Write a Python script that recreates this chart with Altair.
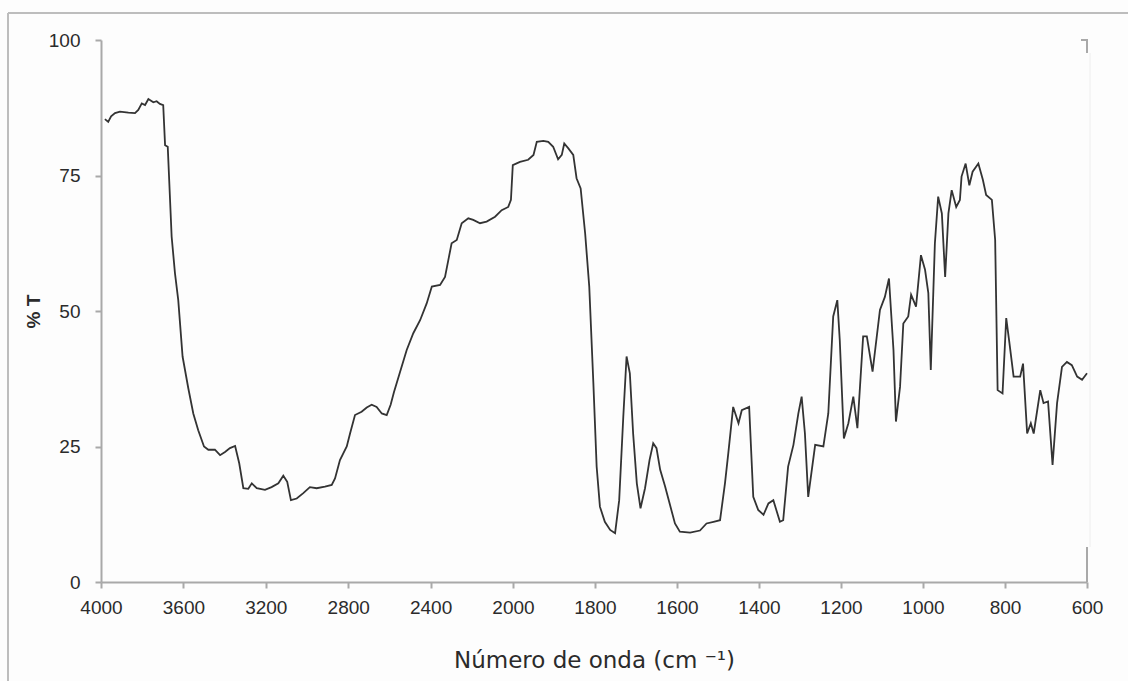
import altair as alt
import pandas as pd

# IR transmittance spectrum, wavenumber (cm-1) vs %T
wavenumber = [
    3981, 3965, 3951, 3932, 3908, 3867, 3835, 3819, 3802, 3786, 3770, 3746, 3730, 3714,
    3698, 3689, 3676, 3657, 3641, 3625, 3604, 3576, 3552, 3528, 3500, 3479, 3447, 3422,
    3398, 3374, 3349, 3329, 3309, 3285, 3268, 3244, 3204, 3172, 3139, 3115, 3096, 3078,
    3050, 3018, 2986, 2953, 2913, 2880, 2864, 2840, 2807, 2791, 2767, 2735, 2710, 2686,
    2662, 2637, 2613, 2594, 2578, 2552, 2516, 2484, 2451, 2419, 2394, 2354, 2330, 2314,
    2298, 2273, 2249, 2217, 2193, 2160, 2128, 2087, 2055, 2023, 2010, 2001, 1983, 1963,
    1950, 1942, 1926, 1914, 1902, 1890, 1881, 1875, 1865, 1853, 1845, 1835, 1824, 1814,
    1804, 1796, 1788, 1776, 1763, 1751, 1741, 1731, 1723, 1715, 1707, 1698, 1689, 1678,
    1667, 1658, 1650, 1641, 1629, 1617, 1605, 1593, 1568, 1544, 1528, 1511, 1495, 1483,
    1475, 1463, 1450, 1442, 1424, 1414, 1402, 1389, 1377, 1365, 1349, 1341, 1329, 1316,
    1304, 1296, 1288, 1280, 1263, 1243, 1231, 1219, 1209, 1203, 1193, 1182, 1170, 1160,
    1146, 1137, 1123, 1105, 1093, 1083, 1072, 1066, 1056, 1048, 1036, 1029, 1017, 1005,
    995, 987, 981, 971, 963, 954, 946, 938, 930, 919, 910, 906, 896, 887,
    879, 865, 854, 846, 832, 824, 818, 806, 797, 789, 779, 763, 756, 746,
    737, 730, 714, 706, 695, 684, 673, 661, 649, 637, 624, 612, 600,
]
transmittance = [
    85.4, 84.9, 85.9, 86.5, 86.8, 86.6, 86.5, 87.1, 88.3, 88.0, 89.1, 88.5, 88.7, 88.2,
    88.0, 80.6, 80.3, 63.7, 57.0, 52.0, 41.6, 35.7, 31.1, 28.0, 25.0, 24.4, 24.4, 23.4,
    24.0, 24.7, 25.1, 21.9, 17.3, 17.2, 18.2, 17.3, 17.0, 17.5, 18.2, 19.6, 18.5, 15.1,
    15.4, 16.4, 17.5, 17.3, 17.6, 17.9, 19.1, 22.5, 25.0, 27.4, 30.8, 31.4, 32.2, 32.7,
    32.3, 31.1, 30.8, 32.7, 35.0, 38.3, 42.8, 45.9, 48.3, 51.4, 54.5, 54.8, 56.3, 59.4,
    62.5, 63.1, 66.2, 67.1, 66.8, 66.2, 66.5, 67.4, 68.6, 69.2, 70.5, 76.9, 77.5, 77.9,
    78.8, 81.2, 81.4, 81.2, 80.3, 78.0, 78.8, 80.9, 80.0, 78.8, 74.5, 72.6, 64.3, 54.5,
    36.7, 21.3, 13.9, 11.1, 9.6, 9.0, 15.1, 30.5, 41.6, 38.5, 27.4, 18.2, 13.6, 17.3,
    22.5, 25.6, 24.7, 20.7, 17.6, 14.2, 10.8, 9.3, 9.1, 9.5, 10.8, 11.1, 11.4, 18.2,
    23.7, 32.3, 29.3, 31.7, 32.3, 15.7, 13.3, 12.4, 14.5, 15.1, 11.1, 11.4, 21.3, 25.3,
    31.1, 34.2, 27.4, 15.7, 25.3, 25.0, 31.1, 49.0, 52.0, 44.6, 26.5, 29.3, 34.2, 28.4,
    45.3, 45.3, 38.8, 50.2, 52.6, 56.0, 42.8, 29.6, 36.0, 47.7, 49.0, 53.0, 50.8, 60.3,
    57.6, 53.3, 39.1, 62.5, 71.1, 68.0, 56.3, 68.0, 72.3, 69.2, 70.5, 74.8, 77.2, 73.2,
    75.7, 77.2, 74.2, 71.4, 70.5, 63.1, 35.4, 34.8, 48.7, 44.0, 37.9, 37.9, 40.3, 27.4,
    29.3, 27.4, 35.4, 33.0, 33.3, 21.6, 33.0, 39.7, 40.6, 40.0, 37.9, 37.3, 38.5,
]

x_ticks = [4000, 3600, 3200, 2800, 2400, 2000, 1800, 1600, 1400, 1200, 1000, 800, 600]
y_ticks = [0, 25, 50, 75, 100]

spectrum = pd.DataFrame({"wn": wavenumber, "T": transmittance})
one_row = pd.DataFrame({"k": [0]})

W, H = 986, 542
AXIS_GRAY = "#a9a9a9"
FRAME_GRAY = "#bdbdbd"
TEXT = "#2b2b2b"

# the wavenumber axis changes scale at 2000 cm-1 (piecewise linear)
x_scale = alt.Scale(domain=[4000, 2000, 600], range=[0, 412, W])
y_scale = alt.Scale(domain=[0, 100])

common_axis = dict(
    domainColor=AXIS_GRAY, domainWidth=2,
    tickColor=AXIS_GRAY, tickWidth=2, tickSize=6,
    labelFont="Liberation Sans", labelFontSize=19, labelColor=TEXT,
    labelOverlap=False, labelFlush=False, grid=False, format="d",
)

line = alt.Chart(spectrum).mark_line(color="#333333", strokeWidth=1.8).encode(
    x=alt.X(
        "wn:Q", scale=x_scale,
        axis=alt.Axis(
            values=x_ticks, labelPadding=10,
            title="Número de onda (cm ⁻¹)",
            titleFont="DejaVu Sans", titleFontSize=23, titleFontWeight="normal",
            titleColor=TEXT, titleBaseline="alphabetic", titleY=85,
            **common_axis,
        ),
    ),
    y=alt.Y(
        "T:Q", scale=y_scale,
        axis=alt.Axis(
            values=y_ticks, labelPadding=15,
            title="% T",
            titleFont="Liberation Sans", titleFontSize=19, titleFontWeight="bold",
            titleColor=TEXT, titleAngle=270, titleAlign="center",
            titleBaseline="middle", titleX=-68, titleY=H / 2,
            **common_axis,
        ),
    ),
)

# outer frame (top and left edges)
frame_top = alt.Chart(one_row).mark_rule(color=FRAME_GRAY, strokeWidth=2).encode(
    x=alt.value(-93), x2=alt.value(W + 41), y=alt.value(-27)
)
frame_left = alt.Chart(one_row).mark_rule(color=FRAME_GRAY, strokeWidth=2).encode(
    x=alt.value(-93), y=alt.value(-27), y2=alt.value(H + 99)
)

# short right-hand axis pieces
right_top = alt.Chart(one_row).mark_rule(color=AXIS_GRAY, strokeWidth=2).encode(
    x=alt.value(W), y=alt.value(0), y2=alt.value(13)
)
right_top_tick = alt.Chart(one_row).mark_rule(color=AXIS_GRAY, strokeWidth=2).encode(
    x=alt.value(W - 6), x2=alt.value(W + 1), y=alt.value(0)
)
right_bottom = alt.Chart(one_row).mark_rule(color=AXIS_GRAY, strokeWidth=2).encode(
    x=alt.value(W), y=alt.value(H - 35), y2=alt.value(H)
)
right_faint = alt.Chart(one_row).mark_rule(color="#eeeeee", strokeWidth=1).encode(
    x=alt.value(W + 3), y=alt.value(13), y2=alt.value(H - 35)
)

chart = alt.layer(
    frame_top, frame_left, right_faint, line, right_top, right_top_tick, right_bottom
).properties(
    width=W, height=H,
    autosize=alt.AutoSizeParams(type="none"),
    padding={"left": 101, "top": 40, "right": 41, "bottom": 99},
    background="#fdfdfd",
).configure_view(stroke=None)

chart.save("out.html", embed_options={"renderer": "svg", "actions": False})
